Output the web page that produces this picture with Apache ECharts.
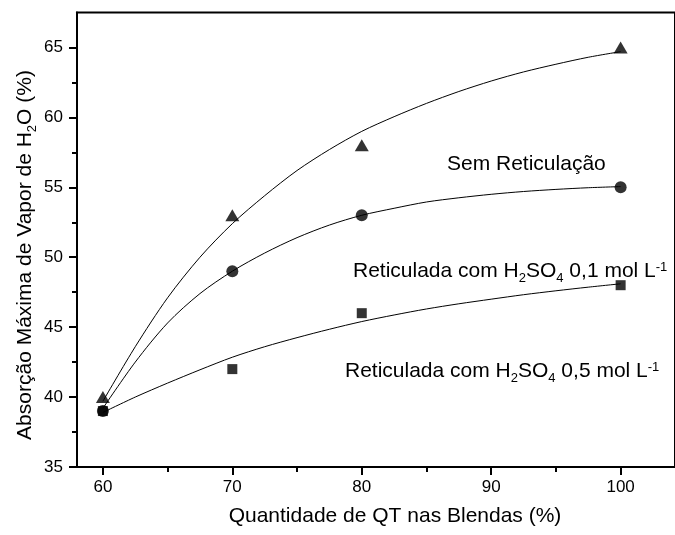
<!DOCTYPE html>
<html>
<head>
<meta charset="utf-8">
<script src="https://cdn.jsdelivr.net/npm/echarts@6/dist/echarts.min.js"></script>
<style>
  html, body { margin: 0; padding: 0; background: #fff; }
  #chart { width: 675px; height: 535px; }
</style>
</head>
<body>
<div id="chart"></div>
<script>
// pontos medidos
var xBlend = [60, 70, 80, 100];
var semRetic = [40, 53, 58, 65];          // triangulos
var retic01 = [39, 49, 53, 55];           // circulos
var retic05 = [39, 42, 46, 48];           // quadrados

// curvas de ajuste
var fitX = [60, 62.5, 65, 67.5, 70, 72.5, 75, 77.5, 80, 82.5, 85, 87.5, 90, 92.5, 95, 97.5, 100];
var fitSem = [39.7, 43.6, 47.1, 50.0, 52.4, 54.4, 56.2, 57.7, 59.0, 60.05, 61.0, 61.85, 62.6, 63.25, 63.8, 64.3, 64.7];
var fit01 = [39.2, 42.5, 45.3, 47.4, 49.0, 50.3, 51.4, 52.3, 53.0, 53.5, 53.95, 54.25, 54.5, 54.7, 54.85, 54.97, 55.05];
var fit05 = [38.9, 40.0, 41.0, 41.95, 42.85, 43.6, 44.25, 44.85, 45.4, 45.87, 46.3, 46.67, 47.0, 47.32, 47.6, 47.86, 48.1];

// ticks
var xTicks = [60, 70, 80, 90, 100];
var xMinor = [65, 75, 85, 95];
var yTicks = [35, 40, 45, 50, 55, 60, 65];
var yMinor = [37.5, 42.5, 47.5, 52.5, 57.5, 62.5];

var FONT = 'Liberation Sans, Arial, sans-serif';

function pairs(xs, ys) {
    var out = [];
    for (var i = 0; i < xs.length; i++) out.push([xs[i], ys[i]]);
    return out;
}

var richSty = {
    sub: {fontSize: 13, fontFamily: FONT, fill: '#000', color: '#000', padding: [15, 0, 0, 0]},
    sup: {fontSize: 13, fontFamily: FONT, fill: '#000', color: '#000', padding: [0, 0, 8, 0]}
};

function label(x, y, txt, rot) {
    return {
        type: 'text',
        x: x, y: y,
        rotation: rot || 0,
        style: {
            text: txt,
            fill: '#000',
            fontSize: 21,
            fontFamily: FONT,
            align: rot ? 'center' : 'left',
            verticalAlign: 'middle',
            rich: richSty
        }
    };
}

var myChart = echarts.init(document.getElementById('chart'));

var lineStyle = {color: '#000', width: 2};
var fitStyle = {color: '#000', width: 1};

option = {
    animation: false,
    backgroundColor: '#fff',
    grid: {
        left: 77, top: 12.5, right: 0, bottom: 68,
        show: true, borderColor: '#000', borderWidth: 2
    },
    xAxis: [{
        type: 'value', min: 58, max: 104.2, position: 'bottom',
        axisLine: {lineStyle: lineStyle},
        axisTick: {customValues: xTicks, length: 8, lineStyle: lineStyle},
        axisLabel: {customValues: xTicks, margin: 12, fontSize: 17, color: '#000', fontFamily: FONT},
        splitLine: {show: false}
    }, {
        type: 'value', min: 58, max: 104.2, position: 'bottom',
        axisLine: {show: false},
        axisTick: {customValues: xMinor, length: 5, lineStyle: lineStyle},
        axisLabel: {show: false},
        splitLine: {show: false}
    }],
    yAxis: [{
        type: 'value', min: 35, max: 67.5, position: 'left',
        axisLine: {show: true, lineStyle: lineStyle},
        axisTick: {show: true, customValues: yTicks, length: 8, lineStyle: lineStyle},
        axisLabel: {customValues: yTicks, margin: 14, fontSize: 17, color: '#000', fontFamily: FONT},
        splitLine: {show: false}
    }, {
        type: 'value', min: 35, max: 67.5, position: 'left',
        axisLine: {show: false},
        axisTick: {show: true, customValues: yMinor, length: 5, lineStyle: lineStyle},
        axisLabel: {show: false},
        splitLine: {show: false}
    }],
    series: [
        {type: 'line', data: pairs(fitX, fitSem), smooth: 0.3, showSymbol: false, lineStyle: fitStyle, z: 2},
        {type: 'line', data: pairs(fitX, fit01), smooth: 0.3, showSymbol: false, lineStyle: fitStyle, z: 2},
        {type: 'line', data: pairs(fitX, fit05), smooth: 0.3, showSymbol: false, lineStyle: fitStyle, z: 2},
        {type: 'scatter', data: pairs(xBlend, semRetic), symbol: 'triangle', symbolSize: [14, 12], itemStyle: {color: '#000'}, z: 3},
        {type: 'scatter', data: pairs(xBlend, retic01), symbol: 'circle', symbolSize: 12, itemStyle: {color: '#000'}, z: 3},
        {type: 'scatter', data: pairs(xBlend, retic05), symbol: 'rect', symbolSize: 10, itemStyle: {color: '#000'}, z: 3}
    ],
    graphic: [
        label(447, 164, 'Sem Reticulação'),
        label(353, 271, 'Reticulada com H{sub|2}SO{sub|4} 0,1 mol L{sup|-1}'),
        label(345, 371, 'Reticulada com H{sub|2}SO{sub|4} 0,5 mol L{sup|-1}'),
        label(395, 516, 'Quantidade de QT nas Blendas (%)', 0),
        label(25, 255, 'Absorção Máxima de Vapor de H{sub|2}O (%)', Math.PI / 2)
    ]
};
option.graphic[3].style.align = 'center';

myChart.setOption(option, true);
</script>
</body>
</html>
